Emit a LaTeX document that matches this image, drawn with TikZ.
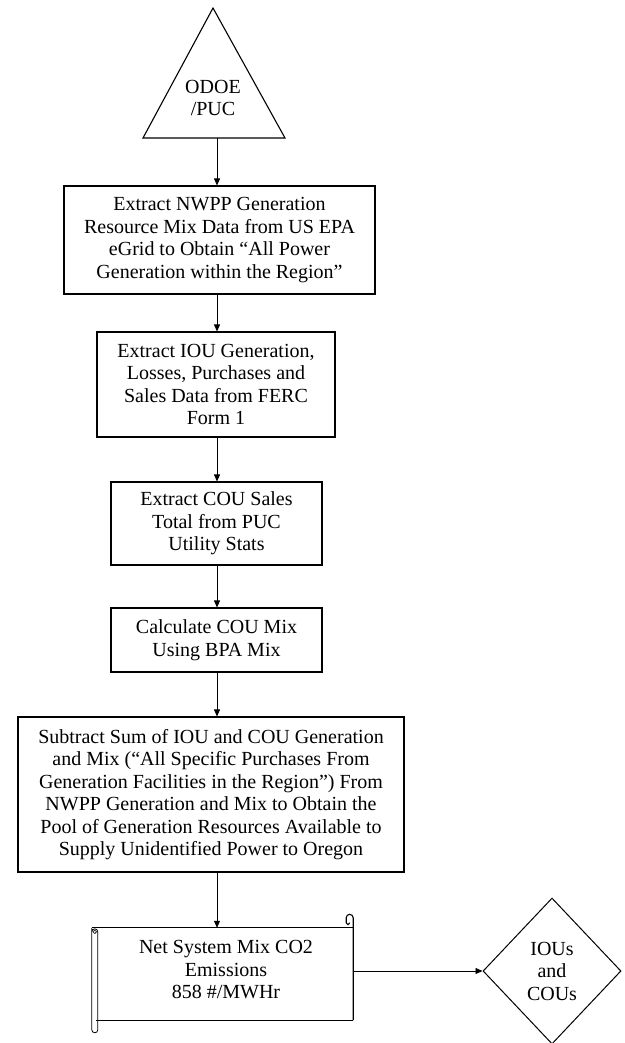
\documentclass[tikz,border=0pt]{standalone}
\usepackage{fontspec}
\setmainfont{Liberation Serif}
\usetikzlibrary{shapes.geometric,arrows.meta,calc}
\begin{document}
\begin{tikzpicture}[x=1pt,y=-1pt,
  txt/.style={font=\fontsize{20}{22.5}\selectfont, align=center, inner sep=0pt},
  procbox/.style={txt, draw, line width=1.1pt},
  flow/.style={-{Triangle[length=7pt,width=6pt]}, line width=0.8pt},
  edge/.style={line width=1.1pt}
]
\useasboundingbox (0,0) rectangle (624,1043);
\coordinate (col) at (217,0);
% triangle
\coordinate (tA) at (213,8);
\coordinate (tL) at (143,138);
\coordinate (tR) at (285,138);
\draw[edge, line join=miter] (tA) -- (tR) -- (tL) -- cycle;
\node[txt] (tri) at (213,98) {ODOE\\/PUC};
\coordinate (tbase) at (217,138);

\node[procbox, minimum width=311pt, minimum height=108pt] (b1) at (219.5,240)
  {Extract NWPP Generation\\Resource Mix Data from US EPA\\eGrid to Obtain “All Power\\Generation within the Region”};
\node[procbox, minimum width=238pt, minimum height=105pt] (b2) at (216,384.5)
  {Extract IOU Generation,\\Losses, Purchases and\\Sales Data from FERC\\Form 1};
\node[procbox, minimum width=211pt, minimum height=83pt] (b3) at (216.5,523.5)
  {Extract COU Sales\\Total from PUC\\Utility Stats};
\node[procbox, minimum width=211pt, minimum height=64pt] (b4) at (216.5,640)
  {Calculate COU Mix\\Using BPA Mix};
\node[procbox, minimum width=386pt, minimum height=155pt] (b5) at (211,794.5)
  {Subtract Sum of IOU and COU Generation\\and Mix (“All Specific Purchases From\\Generation Facilities in the Region”) From\\NWPP Generation and Mix to Obtain the\\Pool of Generation Resources Available to\\Supply Unidentified Power to Oregon};

% scroll
\node[minimum width=261pt, minimum height=92pt, inner sep=0pt] (sc) at (222.5,974) {};
\node[txt] (sctxt) at (226,970) {Net System Mix CO2\\Emissions\\858 \#/MWHr};
\draw[edge] (sc.north west) -- (sc.north east);
\draw[edge] ($(sc.south west)+(4,0)$) -- (sc.south east);
\draw[edge] (sc.south east) -- ($(sc.north east)+(0,-10)$)
  arc[start angle=0,end angle=-180,radius=3.5] -- ++(0,5) arc[start angle=180,end angle=0,radius=1.8];
\draw[line width=0.8pt] (sc.north west) -- ++(0,102) arc[start angle=180,end angle=0,radius=3] -- ++(0,-98)
  arc[start angle=0,end angle=-180,radius=3];
\draw[line width=0.6pt] ($(sc.north west)+(3,4)$) circle[radius=1.8];

% diamond
\node[txt, draw, diamond, line width=1pt, minimum width=138pt, minimum height=146pt] (dia) at (552,971) {IOUs\\and\\COUs};

% connectors
\draw[flow] (tbase) -- (b1.north -| col);
\draw[flow] (b1.south -| col) -- (b2.north -| col);
\draw[flow] (b2.south -| col) -- (b3.north -| col);
\draw[flow] (b3.south -| col) -- (b4.north -| col);
\draw[flow] (b4.south -| col) -- (b5.north -| col);
\draw[flow] (b5.south -| col) -- (sc.north -| col);
\draw[flow] (sc.east |- dia.west) -- (dia.west);
\end{tikzpicture}
\end{document}
